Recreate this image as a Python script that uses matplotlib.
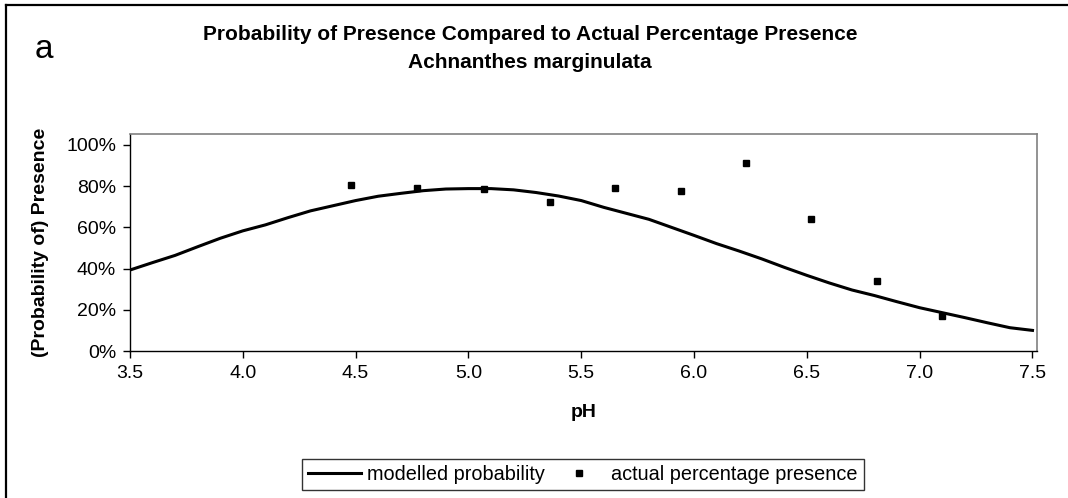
import numpy as np
import matplotlib.pyplot as plt
from matplotlib.lines import Line2D
from matplotlib.ticker import PercentFormatter

# modelled probability curve (every 0.1 pH)
model_ph = [3.5, 3.6, 3.7, 3.8, 3.9, 4.0, 4.1, 4.2, 4.3, 4.4, 4.5, 4.6, 4.7, 4.8, 4.9,
            5.0, 5.1, 5.2, 5.3, 5.4, 5.5, 5.6, 5.7, 5.8, 5.9, 6.0, 6.1, 6.2, 6.3, 6.4,
            6.5, 6.6, 6.7, 6.8, 6.9, 7.0, 7.1, 7.2, 7.3, 7.4, 7.5]
model_prob = [39.3, 42.9, 46.4, 50.6, 54.7, 58.3, 61.2, 64.7, 68.0, 70.5, 73.0, 75.1,
              76.5, 77.8, 78.6, 78.8, 78.8, 78.2, 76.9, 75.2, 73.0, 69.7, 66.8, 63.9,
              60.0, 56.1, 52.1, 48.5, 44.7, 40.6, 36.7, 33.0, 29.6, 26.9, 23.9, 21.0,
              18.6, 16.2, 13.7, 11.3, 10.0]

# actual percentage presence
actual_ph = [4.48, 4.77, 5.07, 5.36, 5.65, 5.94, 6.23, 6.52, 6.81, 7.10]
actual_pct = [80.7, 79.3, 78.5, 72.3, 79.3, 77.8, 91.3, 64.1, 34.0, 17.2]

W, H = 1068, 498
fig = plt.figure(figsize=(W / 100, H / 100), dpi=100)
plt.rcParams['font.family'] = ['Liberation Sans', 'DejaVu Sans']

ax = fig.add_axes([130 / W, 1 - 351 / H, (1037 - 130) / W, (351 - 134) / H])

ax.plot(model_ph, model_prob, color='black', lw=2.2, label='modelled probability')
ax.plot(actual_ph, actual_pct, ls='none', marker='s', ms=4.5, color='black',
        label='actual percentage presence')

ax.set_xlim(3.5, 7.52)
ax.set_ylim(0, 105.3)
ax.set_xticks(np.arange(3.5, 7.51, 0.5))
ax.set_xticklabels([f'{t:.1f}' for t in np.arange(3.5, 7.51, 0.5)])
ax.set_yticks(np.arange(0, 101, 20))
ax.yaxis.set_major_formatter(PercentFormatter(decimals=0))
ax.tick_params(labelsize=14, length=5, width=1, direction='out', pad=5)

for s in ['top', 'right']:
    ax.spines[s].set_color('#808080')
    ax.spines[s].set_linewidth(1.2)
for s in ['left', 'bottom']:
    ax.spines[s].set_color('black')
    ax.spines[s].set_linewidth(1)

ax.set_xlabel('pH', fontsize=14, fontweight='bold', labelpad=16)
ax.set_ylabel('(Probability of) Presence', fontsize=14, fontweight='bold', labelpad=12)

fig.text(530 / W, 1 - 35 / H, 'Probability of Presence Compared to Actual Percentage Presence',
         ha='center', va='center', fontsize=15, fontweight='bold')
fig.text(530 / W, 1 - 62 / H, 'Achnanthes marginulata',
         ha='center', va='center', fontsize=15, fontweight='bold')
fig.text(44 / W, 1 - 49 / H, 'a', ha='center', va='center', fontsize=24)

leg = fig.legend(loc='center', bbox_to_anchor=(583 / W, 1 - 474.5 / H), ncol=2,
                 fontsize=14.3, frameon=True, fancybox=False, edgecolor='black',
                 handlelength=2.65, handletextpad=0.3, columnspacing=0.4,
                 borderpad=0.3, borderaxespad=0)
leg.get_frame().set_linewidth(1)

# outer chart border (left and top only visible)
fig.add_artist(Line2D([6 / W, 6 / W], [0, 1 - 5 / H], color='black', lw=1.6,
                      transform=fig.transFigure))
fig.add_artist(Line2D([6 / W, 1], [1 - 5 / H, 1 - 5 / H], color='black', lw=1.6,
                      transform=fig.transFigure))

fig.savefig('out.png', dpi=100)
